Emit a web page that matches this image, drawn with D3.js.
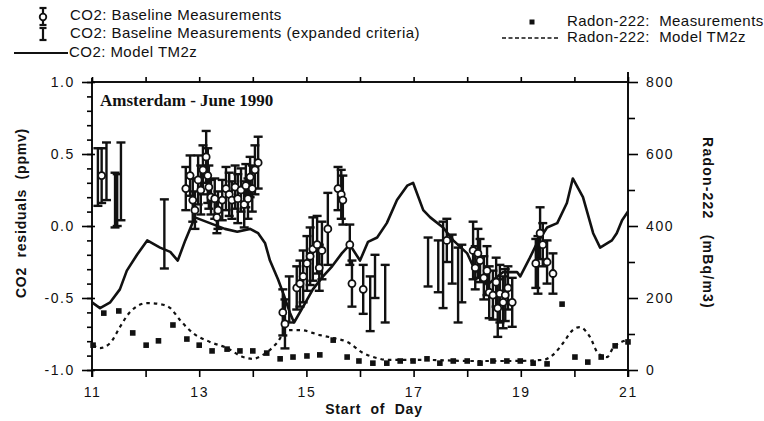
<!DOCTYPE html>
<html><head><meta charset="utf-8">
<script src="https://cdn.jsdelivr.net/npm/d3@7"></script>
<style>
html,body{margin:0;padding:0;background:#fff;}
svg{display:block;}
text{font-family:"Liberation Sans",Arial,Helvetica,sans-serif;fill:#111;}
</style></head>
<body><svg id="c" width="764" height="421"></svg>
<script>
// ---------------- DATA ----------------
const xTickValues = [11,12,13,14,15,16,17,18,19,20,21];
const xTickLabels = ["11","","13","","15","","17","","19","","21"];
const leftTickValues = [-1.0,-0.5,0.0,0.5,1.0];
const leftTickLabels = ["-1.0","-0.5","0.0","0.5","1.0"];
const rightTickValues = [0,200,400,600,800];
const rightTickLabels = ["0","200","400","600","800"];

// CO2 model TM2z (ppmv residual)
const co2ModelDay = [11.00,11.15,11.34,11.52,11.65,11.84,12.03,12.27,12.46,12.60,12.74,12.92,13.20,13.48,13.71,13.95,14.10,14.23,14.32,14.47,14.58,14.69,14.77,14.94,15.12,15.31,15.48,15.66,15.81,16.00,16.15,16.32,16.50,16.69,16.88,16.99,17.18,17.31,17.55,17.74,18.00,18.11,18.37,18.67,18.93,18.99,19.17,19.30,19.49,19.68,19.86,19.97,20.16,20.35,20.48,20.70,20.79,20.89,21.00];
const co2ModelVal = [-0.53,-0.57,-0.53,-0.44,-0.31,-0.20,-0.10,-0.15,-0.18,-0.24,-0.10,0.06,0.02,-0.02,-0.04,-0.02,-0.05,-0.12,-0.24,-0.37,-0.48,-0.60,-0.67,-0.56,-0.44,-0.35,-0.28,-0.19,-0.13,-0.24,-0.11,-0.08,0.02,0.18,0.28,0.30,0.11,0.06,-0.01,-0.10,-0.19,-0.28,-0.41,-0.32,-0.32,-0.35,-0.22,-0.12,-0.01,0.02,0.16,0.33,0.20,-0.05,-0.15,-0.10,-0.05,0.04,0.10];

// Radon-222 model TM2z (mBq/m3)
const radonModelDay = [11.02,11.15,11.34,11.52,11.71,12.03,12.27,12.46,12.64,12.88,13.20,13.52,13.82,14.00,14.19,14.45,14.64,14.88,15.25,15.50,15.76,16.06,16.32,16.50,17.25,18.05,18.80,19.41,19.60,19.79,19.97,20.10,20.29,20.44,20.61,20.72,20.98];
const radonModelVal = [69,61,75,119,161,186,183,172,139,103,78,61,36,31,42,75,111,111,97,89,78,47,33,28,28,25,25,28,42,75,111,119,92,47,36,61,83];

// Radon-222 measurements (mBq/m3)
const radonMeasDay = [11.02,11.22,11.50,11.76,12.01,12.24,12.51,12.77,13.00,13.24,13.52,13.76,14.00,14.26,14.51,14.75,15.01,15.25,15.50,15.76,15.98,16.24,16.50,16.75,16.99,17.25,17.49,17.74,18.00,18.24,18.48,18.74,18.99,19.23,19.49,19.77,20.01,20.25,20.50,20.76,21.00];
const radonMeasVal = [69,158,164,103,69,81,125,86,69,53,58,53,53,47,31,36,39,42,83,36,25,19,19,25,25,31,19,25,25,19,25,25,25,19,17,183,36,22,36,67,78];

// CO2 baseline measurements (value, +/- error)
const baseDay = [11.18,
 12.75,12.83,12.88,12.92,12.98,13.03,13.07,13.13,13.16,13.18,13.22,13.29,13.33,13.35,13.43,13.50,13.56,13.61,13.67,13.72,13.78,13.84,13.87,13.91,13.95,13.99,14.04,14.10,
 14.56,14.60,14.82,14.88,14.94,15.01,15.07,15.12,15.20,15.24,15.29,15.40,15.59,15.65,15.68,15.81,15.85,16.06,
 17.62,18.11,18.15,18.20,18.24,18.31,18.37,18.41,18.48,18.54,18.57,18.61,18.67,18.71,18.76,18.84,
 19.28,19.36,19.41,19.49,19.60];
const baseVal = [0.35,
 0.26,0.35,0.18,0.11,0.32,0.25,0.39,0.48,0.35,0.27,0.20,0.19,0.06,0.11,0.18,0.26,0.22,0.18,0.27,0.19,0.25,0.15,0.28,0.19,0.34,0.26,0.39,0.44,
 -0.60,-0.68,-0.43,-0.40,-0.35,-0.26,-0.21,-0.16,-0.13,-0.29,-0.17,-0.02,0.26,0.22,0.18,-0.13,-0.40,-0.44,
 -0.10,-0.17,-0.29,-0.19,-0.24,-0.36,-0.31,-0.46,-0.48,-0.39,-0.57,-0.47,-0.53,-0.48,-0.43,-0.53,
 -0.26,-0.05,-0.13,-0.25,-0.33];
const baseErr = [0.19,
 0.15,0.14,0.15,0.13,0.17,0.17,0.17,0.18,0.19,0.15,0.12,0.14,0.11,0.13,0.14,0.15,0.15,0.13,0.15,0.17,0.15,0.16,0.15,0.14,0.14,0.16,0.17,0.18,
 0.16,0.17,0.15,0.16,0.18,0.19,0.20,0.22,0.20,0.16,0.20,0.25,0.15,0.17,0.17,0.14,0.16,0.17,
 0.15,0.20,0.15,0.17,0.15,0.15,0.17,0.18,0.17,0.17,0.20,0.20,0.18,0.18,0.15,0.17,
 0.17,0.18,0.15,0.15,0.14];

// CO2 baseline measurements, expanded criteria (value, +/- error)
const expDay = [11.11,11.27,11.43,11.47,11.54,12.35,14.68,16.19,16.28,16.47,17.27,17.46,17.55,17.72,17.83,17.90,19.32];
const expVal = [0.34,0.38,0.18,0.18,0.31,-0.055,-0.51,-0.54,-0.35,-0.47,-0.25,-0.28,-0.27,-0.23,-0.41,-0.33,-0.27];
const expErr = [0.20,0.20,0.19,0.18,0.27,0.24,0.16,0.19,0.15,0.20,0.17,0.18,0.30,0.17,0.26,0.20,0.20];

// ---------------- DRAW ----------------
const svg = d3.select("#c");
const L = 92, R = 628, T = 82, B = 370;
const x = d3.scaleLinear().domain([11,21]).range([L,R]);
const yL = d3.scaleLinear().domain([-1,1]).range([B,T]);
const yR = d3.scaleLinear().domain([0,800]).range([B,T]);

const tickFont = g => g.selectAll("text").style("font-size","14px").style("letter-spacing","1.6px").attr("fill","#111");
const noDomain = g => g.select(".domain").remove();

// frame lines
svg.append("line").attr("x1",L).attr("x2",L).attr("y1",78).attr("y2",377).attr("stroke","#111").attr("stroke-width",2);
svg.append("line").attr("x1",R).attr("x2",R).attr("y1",72).attr("y2",377).attr("stroke","#111").attr("stroke-width",2);
svg.append("line").attr("x1",L).attr("x2",R).attr("y1",T).attr("y2",T).attr("stroke","#111").attr("stroke-width",1.8);
svg.append("line").attr("x1",L).attr("x2",R).attr("y1",B).attr("y2",B).attr("stroke","#111").attr("stroke-width",1.8);

// bottom axis
svg.append("g").attr("transform",`translate(0,${B})`)
  .call(d3.axisBottom(x).tickValues(xTickValues).tickSize(7).tickPadding(10)
    .tickFormat((d,i)=>xTickLabels[i]))
  .call(noDomain).call(tickFont)
  .call(g=>g.selectAll("line").attr("stroke-width",1.6));
// top axis ticks
svg.append("g").attr("transform",`translate(0,${T})`)
  .call(d3.axisTop(x).tickValues(xTickValues).tickSize(5).tickFormat(""))
  .call(noDomain).call(g=>g.selectAll("line").attr("stroke-width",1.6));

// left axis: minor and major
svg.append("g").attr("transform",`translate(${L},0)`)
  .call(d3.axisLeft(yL).tickValues(d3.range(-10,11).map(v=>v/10)).tickSize(5).tickFormat(""))
  .call(noDomain).call(g=>g.selectAll("line").attr("stroke-width",1.6));
svg.append("g").attr("transform",`translate(${L},0)`)
  .call(d3.axisLeft(yL).tickValues(leftTickValues).tickSize(10).tickPadding(7)
    .tickFormat((d,i)=>leftTickLabels[i]))
  .call(noDomain).call(tickFont)
  .call(g=>g.selectAll("line").attr("stroke-width",1.6).attr("x2",-10).attr("x1",3));

// right axis
svg.append("g").attr("transform",`translate(${R},0)`)
  .call(d3.axisRight(yR).tickValues([100,300,500,700]).tickSize(7).tickFormat(""))
  .call(noDomain).call(g=>g.selectAll("line").attr("stroke-width",1.6));
svg.append("g").attr("transform",`translate(${R},0)`)
  .call(d3.axisRight(yR).tickValues(rightTickValues).tickSize(10).tickPadding(8)
    .tickFormat((d,i)=>rightTickLabels[i]))
  .call(noDomain).call(tickFont)
  .call(g=>g.selectAll("line").attr("stroke-width",1.6));

// axis titles
svg.append("text").attr("transform","translate(22,213) rotate(-90)").attr("text-anchor","middle")
  .attr("dominant-baseline","middle").style("font-size","14px").style("font-weight","bold")
  .style("letter-spacing","0.8px").style("white-space","pre").text("CO2  residuals  (ppmv)");
svg.append("text").attr("transform","translate(707,223) rotate(90)").attr("text-anchor","middle")
  .attr("dominant-baseline","middle").style("font-size","14px").style("font-weight","bold")
  .style("letter-spacing","1.2px").style("white-space","pre").text("Radon-222   (mBq/m3)");
svg.append("text").attr("x",374).attr("y",410).attr("text-anchor","middle")
  .attr("dominant-baseline","middle").style("font-size","14px").style("font-weight","bold")
  .style("letter-spacing","0.8px").style("white-space","pre").text("Start  of  Day");

// chart title
svg.append("text").attr("x",100).attr("y",106)
  .style("font-family","'Liberation Serif','Times New Roman',serif")
  .style("font-size","17px").style("font-weight","bold").text("Amsterdam - June 1990");

const plot = svg.append("g");

// radon model (dashed)
const radonModel = radonModelDay.map((d,i)=>[d,radonModelVal[i]]);
plot.append("path").datum(radonModel)
  .attr("d", d3.line().curve(d3.curveMonotoneX).x(d=>x(d[0])).y(d=>yR(d[1])))
  .attr("fill","none").attr("stroke","#111").attr("stroke-width",2.2).attr("stroke-dasharray","3.5,4");

// radon measurements
const radonMeas = radonMeasDay.map((d,i)=>[d,radonMeasVal[i]]);
plot.selectAll("rect.rn").data(radonMeas).join("rect").attr("class","rn")
  .attr("x",d=>x(d[0])-2.8).attr("y",d=>yR(d[1])-2.8).attr("width",5.6).attr("height",5.6)
  .attr("fill","#111");

// CO2 model line
const co2Model = co2ModelDay.map((d,i)=>[d,co2ModelVal[i]]);
plot.append("path").datum(co2Model)
  .attr("d", d3.line().x(d=>x(d[0])).y(d=>yL(d[1])))
  .attr("fill","none").attr("stroke","#111").attr("stroke-width",2.6).attr("stroke-linejoin","round");

// error bars helper
function errBars(sel, days, vals, errs, cls){
  const data = days.map((d,i)=>({d, v:vals[i], e:errs[i]}));
  const g = sel.append("g").attr("class",cls);
  const eb = g.selectAll("g").data(data).join("g");
  eb.append("line").attr("x1",d=>x(d.d)).attr("x2",d=>x(d.d))
    .attr("y1",d=>yL(d.v-d.e)).attr("y2",d=>yL(d.v+d.e)).attr("stroke","#111").attr("stroke-width",2.4);
  eb.append("line").attr("x1",d=>x(d.d)-4.5).attr("x2",d=>x(d.d)+4.5)
    .attr("y1",d=>yL(d.v+d.e)).attr("y2",d=>yL(d.v+d.e)).attr("stroke","#111").attr("stroke-width",2.4);
  eb.append("line").attr("x1",d=>x(d.d)-4.5).attr("x2",d=>x(d.d)+4.5)
    .attr("y1",d=>yL(d.v-d.e)).attr("y2",d=>yL(d.v-d.e)).attr("stroke","#111").attr("stroke-width",2.4);
  return data;
}
errBars(plot, expDay, expVal, expErr, "exp");
const baseData = errBars(plot, baseDay, baseVal, baseErr, "base");
plot.selectAll("circle.bm").data(baseData).join("circle").attr("class","bm")
  .attr("cx",d=>x(d.d)).attr("cy",d=>yL(d.v)).attr("r",3.5)
  .attr("fill","#fff").attr("stroke","#111").attr("stroke-width",1.8);

// ---------------- LEGEND ----------------
const lg = svg.append("g");
const legText = (xx,yy,t)=>lg.append("text").attr("x",xx).attr("y",yy).attr("dominant-baseline","middle")
  .style("font-size","15px").style("letter-spacing","0.45px").style("white-space","pre").text(t);
// baseline symbol
lg.append("line").attr("x1",43).attr("x2",43).attr("y1",8).attr("y2",25).attr("stroke","#111").attr("stroke-width",2.2);
lg.append("line").attr("x1",39.5).attr("x2",46.5).attr("y1",8).attr("y2",8).attr("stroke","#111").attr("stroke-width",2.2);
lg.append("line").attr("x1",39.5).attr("x2",46.5).attr("y1",25).attr("y2",25).attr("stroke","#111").attr("stroke-width",2.2);
lg.append("circle").attr("cx",43).attr("cy",17).attr("r",3.3).attr("fill","#fff").attr("stroke","#111").attr("stroke-width",1.8);
legText(70,16,"CO2: Baseline Measurements");
// expanded symbol
lg.append("line").attr("x1",43).attr("x2",43).attr("y1",28).attr("y2",40).attr("stroke","#111").attr("stroke-width",2.2);
lg.append("line").attr("x1",39.5).attr("x2",46.5).attr("y1",28).attr("y2",28).attr("stroke","#111").attr("stroke-width",2.2);
lg.append("line").attr("x1",39.5).attr("x2",46.5).attr("y1",40).attr("y2",40).attr("stroke","#111").attr("stroke-width",2.2);
legText(70,34,"CO2: Baseline Measurements (expanded criteria)");
// model line
lg.append("line").attr("x1",14).attr("x2",68).attr("y1",53).attr("y2",53).attr("stroke","#111").attr("stroke-width",2);
legText(69,53,"CO2: Model TM2z");
// radon legend
lg.append("rect").attr("x",529.5).attr("y",19.5).attr("width",5).attr("height",5).attr("fill","#111");
legText(567,22,"Radon-222:  Measurements");
lg.append("line").attr("x1",502).attr("x2",558).attr("y1",38).attr("y2",38).attr("stroke","#111").attr("stroke-width",1.6).attr("stroke-dasharray","4,2.5");
legText(567,38,"Radon-222:  Model TM2z");
</script></body></html>
